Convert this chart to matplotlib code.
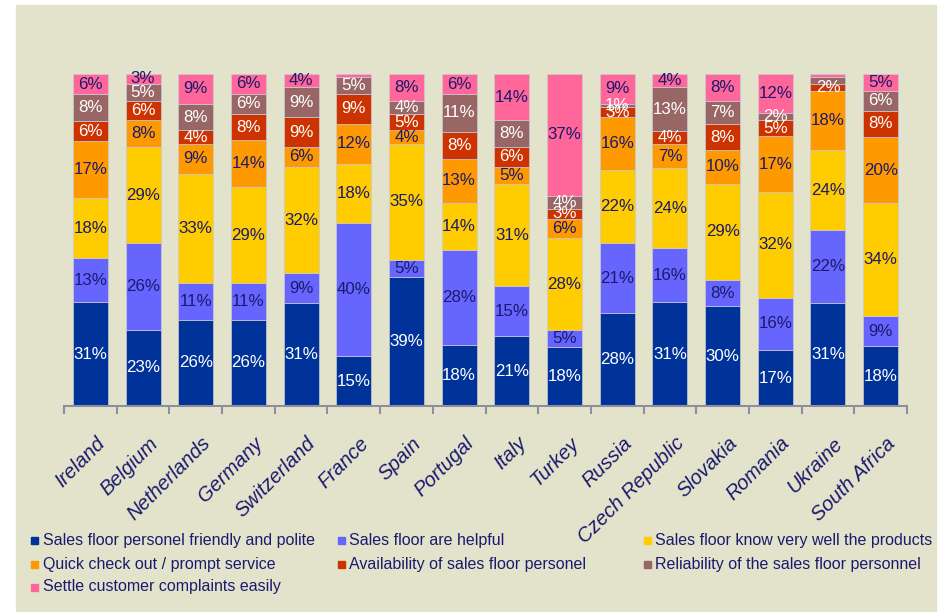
import numpy as np
import matplotlib
matplotlib.use("Agg")
import matplotlib.pyplot as plt
from matplotlib.patches import Rectangle
from matplotlib.transforms import ScaledTranslation

countries = ["Ireland", "Belgium", "Netherlands", "Germany", "Switzerland", "France",
             "Spain", "Portugal", "Italy", "Turkey", "Russia", "Czech Republic",
             "Slovakia", "Romania", "Ukraine", "South Africa"]

series_names = ["Sales floor personel friendly and polite",
                "Sales floor are helpful",
                "Sales floor know very well the products",
                "Quick check out / prompt service",
                "Availability of sales floor personel",
                "Reliability of the sales floor personnel",
                "Settle customer complaints easily"]

friendly = [31, 23, 26, 26, 31, 15, 39, 18, 21, 18, 28, 31, 30, 17, 31, 18]
helpful = [13, 26, 11, 11, 9, 40, 5, 28, 15, 5, 21, 16, 8, 16, 22, 9]
know_products = [18, 29, 33, 29, 32, 18, 35, 14, 31, 28, 22, 24, 29, 32, 24, 34]
quick_checkout = [17, 8, 9, 14, 6, 12, 4, 13, 5, 6, 16, 7, 10, 17, 18, 20]
availability = [6, 6, 4, 8, 9, 9, 5, 8, 6, 3, 3, 4, 8, 5, 2, 8]
reliability = [8, 5, 8, 6, 9, 5, 4, 11, 8, 4, 1, 13, 7, 2, 2, 6]
complaints = [6, 3, 9, 6, 4, 1, 8, 6, 14, 37, 9, 4, 8, 12, 1, 5]

# segments drawn without a value label in the original
hidden_labels = {("France", 6), ("Ukraine", 5), ("Ukraine", 6)}

colors = ["#003399", "#6666FF", "#FFCC00", "#FF9900", "#CC3300", "#996666", "#FF6699"]
label_colors = ["white", "#1A1A6E", "#1A1A6E", "#1A1A6E", "white", "white", "#1A1A6E"]
navy = "#1A1A6E"
bg = "#E3E3CC"

plt.rcParams["font.family"] = ["Liberation Sans", "DejaVu Sans"]

W, H = 942, 612
fig = plt.figure(figsize=(W / 100, H / 100), dpi=100)
fig.patch.set_facecolor("white")
fig.patches.append(Rectangle((16 / W, 0), (936 - 16) / W, 1 - 5 / H,
                             transform=fig.transFigure, color=bg, zorder=-5))

ax = fig.add_axes([64 / W, 1 - 406 / H, 843 / W, 332 / H])
ax.set_facecolor("none")
ax.set_zorder(2)

data = np.array([friendly, helpful, know_products, quick_checkout,
                 availability, reliability, complaints], dtype=float)
pct = data / data.sum(axis=0) * 100
x = np.arange(len(countries))
bottom = np.zeros(len(countries))
for j in range(len(series_names)):
    ax.bar(x, pct[j], bottom=bottom, width=0.665, color=colors[j],
           edgecolor="#C9C9D6", linewidth=0.5, zorder=2)
    for i in range(len(countries)):
        if (countries[i], j) in hidden_labels:
            continue
        ax.text(x[i], bottom[i] + pct[j, i] / 2, f"{int(data[j, i])}%",
                ha="center", va="center", fontsize=12.2, color=label_colors[j], zorder=3)
    bottom += pct[j]

ax.set_xlim(-0.5, len(countries) - 0.5)
ax.set_ylim(0, 100)
for s in ["top", "right", "left"]:
    ax.spines[s].set_visible(False)
ax.spines["bottom"].set_color("#8E8EA0")
ax.spines["bottom"].set_linewidth(1.5)
ax.set_yticks([])

ax.set_xticks(np.arange(-0.5, len(countries)), labels=[""] * (len(countries) + 1))
ax.tick_params(axis="x", which="major", length=6, width=1.5, color="#8E8EA0", direction="out")
ax.set_xticks(x, minor=True)
ax.set_xticklabels(countries, minor=True, rotation=45, ha="right", va="top",
                   rotation_mode="anchor", fontsize=14.5, style="italic", color=navy)
ax.tick_params(axis="x", which="minor", length=0, pad=20)
offset = ScaledTranslation(5 / 100, 0, fig.dpi_scale_trans)
for lab in ax.get_xticklabels(minor=True):
    lab.set_transform(lab.get_transform() + offset)

# legend laid out as in the original: 3 columns, row-major
col_marker_x = [31, 338, 644]
col_text_x = [43, 349, 655]
row_y = [540, 564, 587]
for k, name in enumerate(series_names):
    r, c = divmod(k, 3)
    fig.patches.append(Rectangle((col_marker_x[c] / W, 1 - (row_y[r] + 3.5) / H), 7 / W, 7 / H,
                                 transform=fig.transFigure, color=colors[k], zorder=2))
    fig.text(col_text_x[c] / W, 1 - row_y[r] / H, name, ha="left", va="center",
             fontsize=11.5, color=navy)

fig.savefig("out.png", dpi=100, facecolor=fig.get_facecolor())
